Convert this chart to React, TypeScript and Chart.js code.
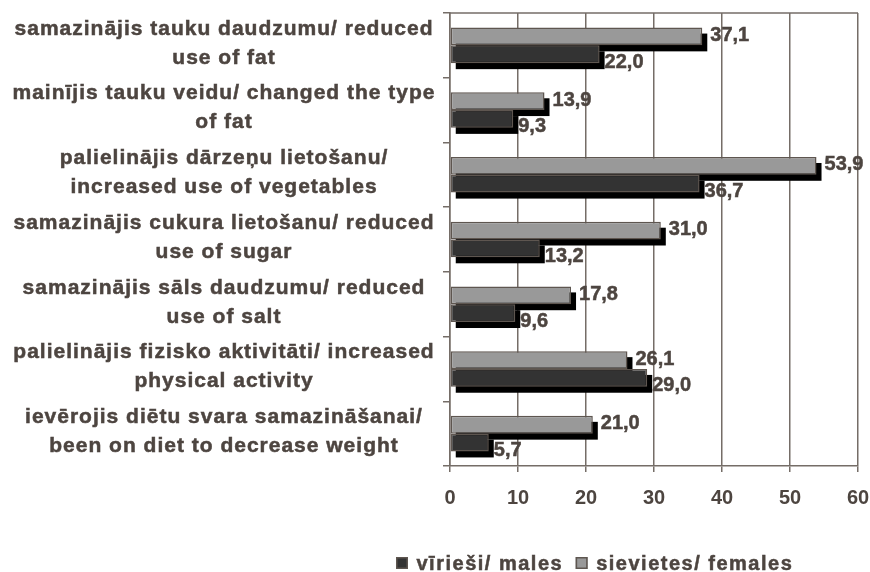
import React, { useEffect, useRef } from "react";
import { Chart, registerables } from "chart.js";

Chart.register(...registerables);

// ---- data ----
const categories: string[][] = [
  ["samazinājis tauku daudzumu/ reduced", "use of fat"],
  ["mainījis tauku veidu/ changed the type", "of fat"],
  ["palielinājis dārzeņu lietošanu/", "increased use of vegetables"],
  ["samazinājis cukura lietošanu/ reduced", "use of sugar"],
  ["samazinājis sāls daudzumu/ reduced", "use of salt"],
  ["palielinājis fizisko aktivitāti/ increased", "physical activity"],
  ["ievērojis diētu svara samazināšanai/", "been on diet to decrease weight"],
];
const femaleValues = [37.1, 13.9, 53.9, 31.0, 17.8, 26.1, 21.0];
const maleValues = [22.0, 9.3, 36.7, 13.2, 9.6, 29.0, 5.7];
const femaleName = "sievietes/ females";
const maleName = "vīrieši/ males";
const xTicks = [0, 10, 20, 30, 40, 50, 60];

// ---- styles ----
const FONT = '"Liberation Sans", Arial, sans-serif';
const TEXT = "#4d4540";
const GRID = "#756d67";
const FEMALE_FILL = "#999999";
const MALE_FILL = "#333333";
const BAR_BORDER = "#5e5650";

const fmt = (v: number) => v.toFixed(1).replace(".", ",");

const heavyText = (ctx: CanvasRenderingContext2D, s: string, x: number, y: number) => {
  ctx.fillText(s, x, y);
  ctx.strokeText(s, x, y);
};

const shadowPlugin = {
  id: "barShadow",
  beforeDatasetsDraw(chart: any) {
    const ctx = chart.ctx;
    ctx.save();
    ctx.fillStyle = "#000000";
    chart.data.datasets.forEach((_ds: any, di: number) => {
      const meta = chart.getDatasetMeta(di);
      meta.data.forEach((el: any) => {
        const p = el.getProps(["x", "y", "base", "height"], true);
        const left = Math.min(p.x, p.base);
        const w = Math.abs(p.x - p.base);
        ctx.fillRect(left + 5, p.y - p.height / 2 + 6, w, p.height);
      });
    });
    ctx.restore();
  },
};

const valueLabelPlugin = {
  id: "valueLabels",
  afterDatasetsDraw(chart: any) {
    const ctx = chart.ctx;
    ctx.save();
    ctx.font = `bold 20px ${FONT}`;
    ctx.fillStyle = TEXT;
    ctx.strokeStyle = TEXT;
    ctx.lineWidth = 0.5;
    ctx.textAlign = "left";
    ctx.textBaseline = "middle";
    chart.data.datasets.forEach((ds: any, di: number) => {
      const meta = chart.getDatasetMeta(di);
      const isFemale = di === 0;
      meta.data.forEach((el: any, i: number) => {
        const p = el.getProps(["x", "y"], true);
        const dx = isFemale ? 8 : 5;
        const dy = isFemale ? -1 : 8;
        heavyText(ctx, fmt(ds.data[i]), p.x + dx, p.y + dy);
      });
    });
    ctx.restore();
  },
};

const decorPlugin = {
  id: "decor",
  afterDraw(chart: any) {
    const ctx = chart.ctx;
    const area = chart.chartArea;
    const yScale = chart.scales.y;
    ctx.save();
    // top frame line
    ctx.strokeStyle = GRID;
    ctx.lineWidth = 1.5;
    ctx.beginPath();
    ctx.moveTo(area.left, area.top);
    ctx.lineTo(area.right, area.top);
    ctx.stroke();

    // category labels
    ctx.font = `bold 21px ${FONT}`;
    (ctx as any).letterSpacing = "1px";
    ctx.fillStyle = TEXT;
    ctx.strokeStyle = TEXT;
    ctx.lineWidth = 0.5;
    ctx.textAlign = "center";
    ctx.textBaseline = "middle";
    const cx = area.left - 226;
    const lh = 29;
    categories.forEach((lines, i) => {
      const cy = yScale.getPixelForValue(i) - 2;
      lines.forEach((line, k) => {
        const y = cy + (k - (lines.length - 1) / 2) * lh;
        heavyText(ctx, line, cx, y);
      });
    });

    // legend
    const items = [
      { name: maleName, fill: MALE_FILL },
      { name: femaleName, fill: FEMALE_FILL },
    ];
    ctx.font = `bold 20px ${FONT}`;
    (ctx as any).letterSpacing = "1.5px";
    ctx.textAlign = "left";
    ctx.textBaseline = "alphabetic";
    let x = 396;
    const boxTop = 557;
    const baseY = 570;
    items.forEach((it) => {
      ctx.fillStyle = it.fill;
      ctx.fillRect(x, boxTop, 12, 12);
      ctx.strokeStyle = BAR_BORDER;
      ctx.lineWidth = 1.5;
      ctx.strokeRect(x + 0.75, boxTop + 0.75, 10.5, 10.5);
      x += 12 + 8.5;
      ctx.fillStyle = TEXT;
      ctx.strokeStyle = TEXT;
      ctx.lineWidth = 0.5;
      heavyText(ctx, it.name, x, baseY);
      x += ctx.measureText(it.name).width + 12.5;
    });
    ctx.restore();
  },
};

export default function App() {
  const ref = useRef<HTMLCanvasElement | null>(null);

  useEffect(() => {
    if (!ref.current) return;
    const chart = new Chart(ref.current, {
      type: "bar",
      data: {
        labels: categories,
        datasets: [
          {
            label: femaleName,
            data: femaleValues,
            backgroundColor: FEMALE_FILL,
            borderColor: BAR_BORDER,
            borderWidth: 1.5,
            borderSkipped: false,
            categoryPercentage: 0.55,
            barPercentage: 1,
          },
          {
            label: maleName,
            data: maleValues,
            backgroundColor: MALE_FILL,
            borderColor: BAR_BORDER,
            borderWidth: 1.5,
            borderSkipped: false,
            categoryPercentage: 0.55,
            barPercentage: 1,
          },
        ],
      },
      options: {
        indexAxis: "y",
        animation: false,
        responsive: false,
        layout: { padding: { left: 0, right: 12, top: 13, bottom: 0 } },
        plugins: {
          legend: { display: false },
          tooltip: { enabled: false },
        },
        scales: {
          x: {
            type: "linear",
            min: xTicks[0],
            max: xTicks[xTicks.length - 1],
            afterBuildTicks: (s: any) => {
              s.ticks = xTicks.map((v) => ({ value: v }));
            },
            ticks: {
              color: TEXT,
              font: { family: FONT, size: 20, weight: "bold" },
              padding: 14,
              maxRotation: 0,
            },
            grid: {
              color: GRID,
              lineWidth: 1.5,
              drawTicks: true,
              tickLength: 6,
            },
            border: { color: GRID, width: 1.5 },
            afterFit: (s: any) => {
              s.height = 106;
              s.paddingLeft = 0;
              s.paddingRight = 0;
            },
          },
          y: {
            type: "category",
            offset: true,
            ticks: { display: false },
            grid: {
              display: true,
              drawOnChartArea: false,
              drawTicks: true,
              tickLength: 7,
              color: GRID,
              lineWidth: 1.5,
              offset: true,
            },
            border: { color: GRID, width: 1.5 },
            afterFit: (s: any) => {
              s.width = 450;
              s.paddingTop = 0;
              s.paddingBottom = 0;
            },
          },
        },
      } as any,
      plugins: [shadowPlugin, valueLabelPlugin, decorPlugin],
    });
    return () => chart.destroy();
  }, []);

  return (
    <div style={{ position: "absolute", left: 0, top: 0, width: 870, height: 572, background: "#ffffff" }}>
      <canvas ref={ref} width={870} height={572} style={{ display: "block" }} />
    </div>
  );
}
